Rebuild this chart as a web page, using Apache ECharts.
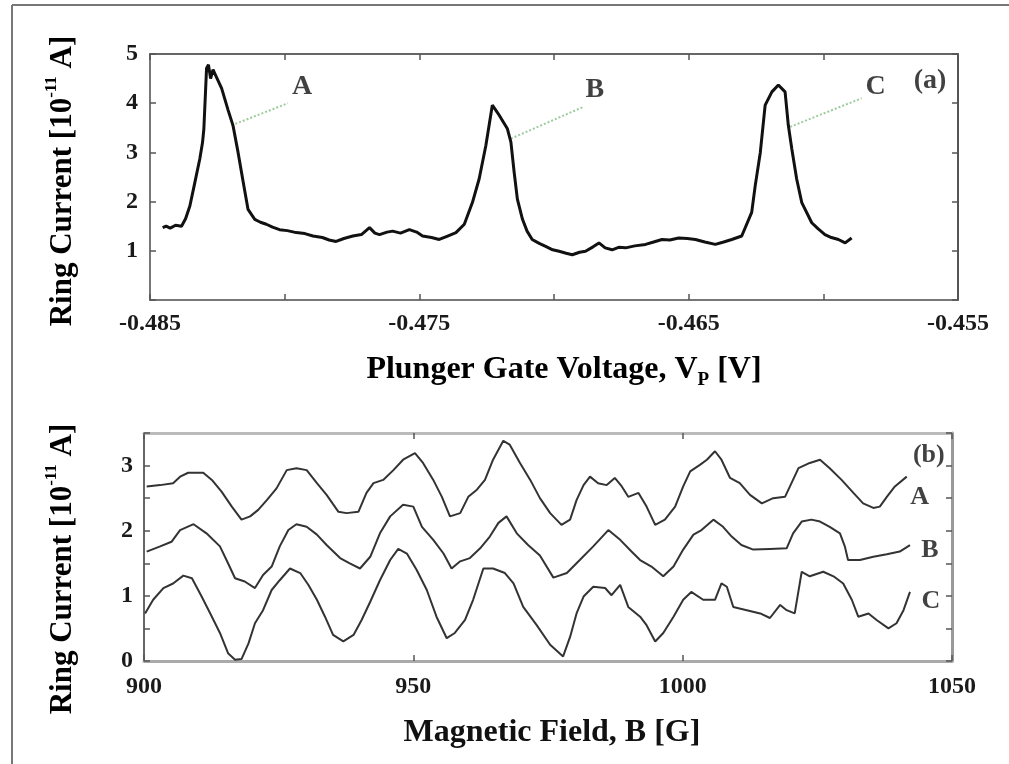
<!DOCTYPE html>
<html>
<head>
<meta charset="utf-8">
<script src="https://cdn.jsdelivr.net/npm/echarts@6/dist/echarts.min.js"></script>
<style>
html,body{margin:0;padding:0;background:#fff;}
#chart{width:1009px;height:764px;}
</style>
</head>
<body>
<div id="chart"></div>
<script>
// ---------- DATA ----------
// Panel (a): Plunger gate voltage [V] vs ring current [1e-11 A]
var voltageTicks = [-0.485, -0.475, -0.465, -0.455];
var sweepA = [
[-0.48453,1.47],[-0.48440,1.50],[-0.48425,1.46],[-0.48405,1.52],[-0.48383,1.50],[-0.48368,1.65],
[-0.48352,1.91],[-0.48333,2.40],[-0.48315,2.87],[-0.48305,3.20],[-0.48300,3.48],[-0.48290,4.71],
[-0.48283,4.78],[-0.48275,4.50],[-0.48266,4.68],[-0.48255,4.55],[-0.48234,4.30],[-0.48210,3.86],
[-0.48192,3.55],[-0.48173,3.00],[-0.48154,2.40],[-0.48136,1.84],[-0.48111,1.64],[-0.48090,1.58],
[-0.48068,1.54],[-0.48045,1.48],[-0.48019,1.43],[-0.47990,1.41],[-0.47957,1.37],[-0.47925,1.35],
[-0.47895,1.30],[-0.47860,1.27],[-0.47835,1.22],[-0.47809,1.19],[-0.47780,1.25],[-0.47747,1.30],
[-0.47715,1.33],[-0.47700,1.40],[-0.47685,1.47],[-0.47665,1.36],[-0.47648,1.33],[-0.47620,1.38],
[-0.47599,1.40],[-0.47570,1.36],[-0.47537,1.43],[-0.47510,1.38],[-0.47488,1.30],[-0.47455,1.27],
[-0.47426,1.23],[-0.47395,1.30],[-0.47364,1.37],[-0.47333,1.54],[-0.47303,1.98],[-0.47278,2.46],
[-0.47253,3.14],[-0.47229,3.96],[-0.47215,3.85],[-0.47204,3.76],[-0.47173,3.48],[-0.47160,3.21],
[-0.47148,2.60],[-0.47136,2.05],[-0.47117,1.64],[-0.47100,1.40],[-0.47081,1.23],[-0.47055,1.15],
[-0.47031,1.09],[-0.47005,1.02],[-0.46981,0.99],[-0.46955,0.95],[-0.46932,0.92],[-0.46905,0.97],
[-0.46883,0.99],[-0.46855,1.08],[-0.46833,1.16],[-0.46810,1.06],[-0.46784,1.02],[-0.46760,1.07],
[-0.46734,1.06],[-0.46700,1.10],[-0.46660,1.13],[-0.46630,1.18],[-0.46599,1.23],[-0.46570,1.22],
[-0.46537,1.26],[-0.46505,1.25],[-0.46475,1.23],[-0.46440,1.18],[-0.46401,1.13],[-0.46370,1.18],
[-0.46340,1.23],[-0.46303,1.30],[-0.46266,1.78],[-0.46253,2.32],[-0.46234,3.00],[-0.46216,3.96],
[-0.46191,4.23],[-0.46167,4.37],[-0.46142,4.23],[-0.46130,3.55],[-0.46117,3.07],[-0.46099,2.46],
[-0.46080,1.98],[-0.46043,1.57],[-0.46020,1.45],[-0.45994,1.33],[-0.45970,1.27],[-0.45944,1.23],
[-0.45919,1.16],[-0.45895,1.26]
];
// leader lines (from curve point to label) and labels for panel (a)
var leaderA = [[-0.48197,3.55],[-0.47988,4.00]];
var leaderB = [[-0.47160,3.28],[-0.46889,3.93]];
var leaderC = [[-0.46123,3.52],[-0.45858,4.10]];
var labelsTop = [
  {name:'A', value:[-0.47935,4.34]},
  {name:'B', value:[-0.46848,4.28]},
  {name:'C', value:[-0.45806,4.34]},
  {name:'(a)', value:[-0.45604,4.46]}
];

// Panel (b): magnetic field [G] vs ring current [1e-11 A]
var fieldTicks = [900, 950, 1000, 1050];
var traceA = [
[900.5,2.68],[903.0,2.70],[905.4,2.73],[906.7,2.83],[908.2,2.89],[911.0,2.89],[912.6,2.78],[914.4,2.60],
[916.3,2.37],[918.1,2.17],[919.7,2.22],[921.2,2.32],[922.8,2.47],[924.6,2.65],[926.5,2.93],[928.3,2.96],
[930.2,2.93],[932.1,2.73],[933.9,2.55],[936.1,2.29],[937.6,2.27],[939.8,2.29],[941.3,2.58],[942.6,2.73],
[944.4,2.78],[946.3,2.93],[948.1,3.09],[950.3,3.19],[951.8,3.04],[953.7,2.78],[955.3,2.52],[956.8,2.22],
[958.7,2.27],[960.2,2.52],[961.8,2.63],[963.3,2.78],[964.8,3.09],[966.7,3.38],[967.9,3.32],[969.8,3.04],
[971.7,2.78],[973.5,2.50],[975.4,2.27],[977.5,2.09],[979.1,2.17],[980.3,2.47],[981.6,2.70],[982.8,2.83],
[984.3,2.73],[985.9,2.70],[987.4,2.81],[988.7,2.68],[989.9,2.52],[991.8,2.58],[993.3,2.37],[994.9,2.09],
[996.7,2.17],[998.6,2.37],[1000.1,2.68],[1001.4,2.91],[1003.2,3.01],[1004.5,3.09],[1006.0,3.22],[1007.2,3.09],
[1008.8,2.81],[1010.6,2.73],[1012.5,2.55],[1014.7,2.42],[1016.8,2.50],[1019.0,2.52],[1020.2,2.73],[1021.5,2.96],
[1023.6,3.04],[1025.5,3.09],[1027.3,2.96],[1029.5,2.78],[1031.7,2.58],[1033.5,2.42],[1035.4,2.35],[1036.6,2.37],
[1037.9,2.52],[1039.4,2.68],[1041.6,2.83]
];
var traceB = [
[900.5,1.68],[903.0,1.76],[905.1,1.83],[906.7,2.01],[909.2,2.10],[911.6,1.96],[914.1,1.76],[915.6,1.50],
[916.9,1.27],[918.7,1.22],[920.6,1.12],[922.1,1.32],[923.7,1.45],[925.2,1.76],[926.8,2.01],[928.3,2.10],
[930.2,2.06],[932.1,1.94],[933.9,1.78],[936.4,1.58],[938.2,1.50],[940.1,1.42],[942.0,1.60],[943.8,1.96],
[945.7,2.22],[948.1,2.40],[950.0,2.37],[951.6,2.06],[953.7,1.86],[955.6,1.65],[957.1,1.42],[958.7,1.53],
[960.5,1.58],[962.4,1.73],[964.2,1.91],[965.8,2.12],[967.3,2.22],[969.2,1.96],[971.3,1.78],[973.5,1.62],
[976.0,1.28],[978.5,1.35],[980.9,1.55],[983.4,1.76],[986.2,2.01],[988.4,1.86],[990.5,1.68],[992.1,1.55],
[994.2,1.45],[996.4,1.30],[998.3,1.45],[1000.1,1.71],[1002.0,1.94],[1003.5,2.01],[1005.7,2.17],[1007.5,2.06],
[1009.1,1.91],[1010.9,1.78],[1013.1,1.71],[1016.2,1.72],[1019.3,1.73],[1020.5,1.96],[1022.1,2.14],[1023.9,2.17],
[1025.5,2.14],[1027.3,2.06],[1029.2,1.96],[1030.1,1.76],[1030.7,1.55],[1032.9,1.55],[1035.4,1.60],[1037.9,1.64],
[1040.3,1.68],[1042.2,1.78]
];
var traceC = [
[900.2,0.73],[901.7,0.94],[903.6,1.12],[905.4,1.19],[907.3,1.31],[908.9,1.27],[910.7,0.99],[912.3,0.73],
[914.1,0.43],[915.6,0.12],[916.9,0.02],[918.1,0.03],[919.4,0.27],[920.6,0.58],[922.1,0.78],[923.7,1.09],
[925.2,1.24],[927.1,1.42],[929.0,1.35],[930.5,1.17],[932.1,0.94],[933.6,0.68],[935.1,0.40],[937.0,0.30],
[938.9,0.40],[940.4,0.63],[942.0,0.91],[943.8,1.24],[945.7,1.55],[947.2,1.72],[948.8,1.65],[950.6,1.40],
[952.5,1.09],[954.3,0.68],[956.2,0.35],[957.7,0.43],[959.6,0.63],[961.1,0.94],[963.0,1.42],[964.8,1.42],
[967.0,1.35],[968.6,1.19],[970.4,0.83],[972.9,0.55],[975.4,0.25],[977.8,0.07],[979.1,0.37],[980.3,0.73],
[981.6,0.99],[983.4,1.14],[985.6,1.12],[986.8,1.01],[988.4,1.17],[989.9,0.83],[992.1,0.68],[993.3,0.55],
[994.9,0.30],[996.4,0.43],[998.3,0.68],[1000.1,0.94],[1001.6,1.06],[1003.8,0.94],[1006.0,0.94],[1007.2,1.19],
[1008.2,1.14],[1009.4,0.83],[1011.9,0.78],[1014.4,0.73],[1016.2,0.66],[1018.1,0.86],[1019.3,0.78],[1020.8,0.73],
[1022.1,1.37],[1023.6,1.30],[1026.1,1.37],[1028.0,1.30],[1029.8,1.19],[1031.4,0.94],[1032.6,0.68],[1034.5,0.73],
[1036.0,0.63],[1038.2,0.50],[1039.7,0.58],[1041.0,0.78],[1042.2,1.06]
];
var labelsBottom = [
  {name:'(b)', value:[1045.7,3.16]},
  {name:'A', value:[1044.0,2.52]},
  {name:'B', value:[1045.9,1.70]},
  {name:'C', value:[1046.1,0.91]}
];

// ---------- CHART ----------
var FONT = 'Liberation Serif';
var chart = echarts.init(document.getElementById('chart'), null, {renderer:'canvas'});

function frameAxis(kind, grid, pos, min, max, interval, showLabel, fmt, lineColor, lineWidth, margin) {
  return {
    type: 'value', gridIndex: grid, position: pos, min: min, max: max, interval: interval,
    axisLine: {show: true, onZero: false, lineStyle: {color: lineColor, width: lineWidth}},
    axisTick: {show: true, inside: true, length: 6, lineStyle: {color: '#555', width: 1.5}},
    axisLabel: {show: showLabel, formatter: fmt, fontFamily: FONT, fontSize: 24, fontWeight: 'bold',
      color: '#1a1a1a', margin: margin},
    splitLine: {show: false}
  };
}
function voltFmt(v, i) { return (i % 2 === 0) ? v.toFixed(3) : ''; }
function fieldFmt(v) { return String(Math.round(v)); }
function topYFmt(v) { return v === 0 ? '' : String(v); }
function botYFmt(v) { return Math.abs(v - Math.round(v)) < 1e-9 ? String(Math.round(v)) : ''; }

var titleRich = {
  m: {fontFamily: FONT, fontSize: 31, fontWeight: 'bold', color: '#111', lineHeight: 35, verticalAlign: 'bottom'},
  s: {fontFamily: FONT, fontSize: 17, fontWeight: 'bold', color: '#111', lineHeight: 18, padding: [0,0,32,0], verticalAlign: 'top'}
};
var subRich = {
  m: {fontFamily: FONT, fontSize: 32, fontWeight: 'bold', color: '#111', lineHeight: 36, verticalAlign: 'top'},
  p: {fontFamily: FONT, fontSize: 19, fontWeight: 'bold', color: '#111', lineHeight: 19, padding: [17,0,0,0], verticalAlign: 'bottom'}
};

function labelSeries(x, y, data, size) {
  return {
    type: 'scatter', xAxisIndex: x, yAxisIndex: y, data: data, symbolSize: 1, silent: true,
    itemStyle: {color: 'rgba(0,0,0,0)'},
    label: {show: true, position: 'inside', formatter: '{b}', fontFamily: FONT, fontSize: size,
      fontWeight: 'bold', color: '#111'}
  };
}
function leader(d) {
  return {type: 'line', xAxisIndex: 0, yAxisIndex: 0, data: d, symbol: 'none', silent: true,
    lineStyle: {color: '#9ccc9c', width: 2, type: 'dotted'}, z: 1};
}
function trace(d) {
  return {type: 'line', xAxisIndex: 2, yAxisIndex: 2, data: d, symbol: 'none', silent: true,
    lineStyle: {color: '#333', width: 2}};
}

var option = {
  animation: false,
  backgroundColor: '#fff',
  grid: [
    {left: 150, top: 54, width: 808, height: 246, containLabel: false},
    {left: 144, top: 433, width: 808, height: 228, containLabel: false}
  ],
  xAxis: [
    frameAxis('x', 0, 'bottom', -0.485, -0.455, 0.005, true, voltFmt, '#777', 2, 12),
    frameAxis('x', 0, 'top', -0.485, -0.455, 0.005, false, null, '#666', 2, 8),
    frameAxis('x', 1, 'bottom', 900, 1050, 50, true, fieldFmt, '#aaa', 3, 14),
    frameAxis('x', 1, 'top', 900, 1050, 50, false, null, '#bbb', 3, 8)
  ],
  yAxis: [
    frameAxis('y', 0, 'left', 0, 5, 1, true, topYFmt, '#777', 2, 12),
    frameAxis('y', 0, 'right', 0, 5, 1, false, null, '#555', 2, 8),
    frameAxis('y', 1, 'left', 0, 3.5, 0.5, true, botYFmt, '#666', 2, 11),
    frameAxis('y', 1, 'right', 0, 3.5, 0.5, false, null, '#999', 3, 8)
  ],
  series: [
    leader(leaderA), leader(leaderB), leader(leaderC),
    {type: 'line', xAxisIndex: 0, yAxisIndex: 0, data: sweepA, symbol: 'none', silent: true,
      lineStyle: {color: '#111', width: 3}, z: 3},
    labelSeries(0, 0, labelsTop, 28),
    trace(traceA), trace(traceB), trace(traceC),
    labelSeries(2, 2, labelsBottom, 26)
  ],
  graphic: [
    {type: 'line', shape: {x1: 12, y1: 5, x2: 1009, y2: 5}, style: {stroke: '#777', lineWidth: 2}},
    {type: 'line', shape: {x1: 12, y1: 5, x2: 12, y2: 764}, style: {stroke: '#777', lineWidth: 2}},
    {type: 'text', x: 61, y: 181, rotation: Math.PI / 2,
      style: {text: '{m|Ring Current [10}{s|-11}{m| A]}', rich: titleRich, align: 'center', verticalAlign: 'middle'}},
    {type: 'text', x: 61, y: 569, rotation: Math.PI / 2,
      style: {text: '{m|Ring Current [10}{s|-11}{m| A]}', rich: titleRich, align: 'center', verticalAlign: 'middle'}},
    {type: 'text', x: 564, y: 372,
      style: {text: '{m|Plunger Gate Voltage, V}{p|P}{m| [V]}', rich: subRich, align: 'center', verticalAlign: 'middle'}},
    {type: 'text', x: 552, y: 733,
      style: {text: 'Magnetic Field, B [G]', fontFamily: FONT, fontSize: 32, fontWeight: 'bold', fill: '#111',
        align: 'center', verticalAlign: 'middle'}}
  ]
};
chart.setOption(option);
</script>
</body>
</html>
